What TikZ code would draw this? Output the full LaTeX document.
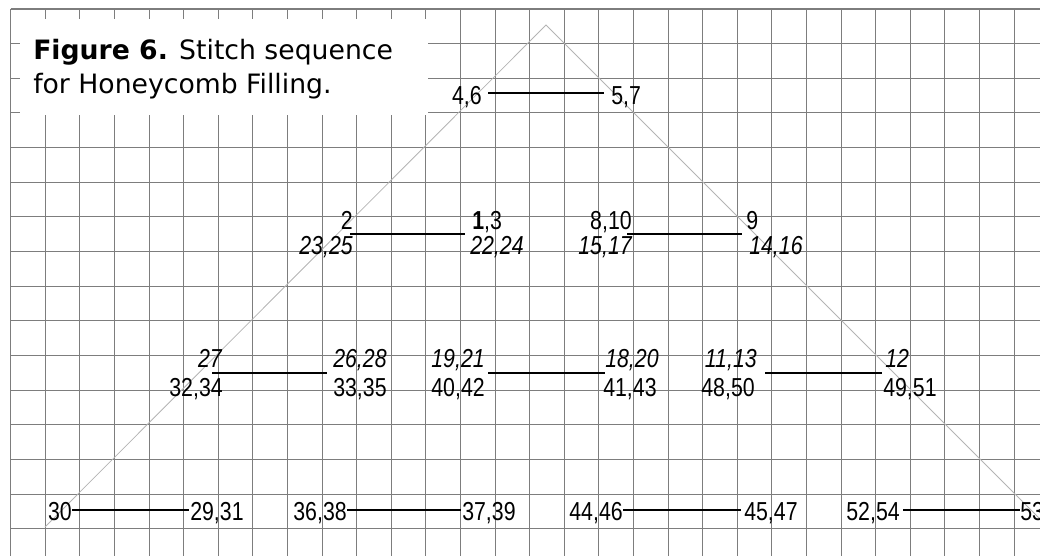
\documentclass[tikz,border=0pt]{standalone}
\usepackage{fontspec}
\setmainfont{DejaVu Sans}
\newfontfamily\stitchfont[FakeStretch=0.82]{Liberation Sans}
\definecolor{gridgray}{RGB}{125,125,125}
\definecolor{trigray}{RGB}{180,180,180}

\begin{document}
\begin{tikzpicture}[x=0.75pt,y=-0.75pt,gridline/.style={draw=gridgray,line width=0.8pt},outline/.style={draw=trigray,line width=0.6pt},stitch/.style={line width=1.5pt},num/.style={inner sep=0pt,font=\stitchfont\fontsize{19.5}{19.5}\selectfont},inum/.style={inner sep=0pt,font=\stitchfont\itshape\fontsize{19.5}{19.5}\selectfont},caption/.style={inner sep=0pt,align=left,font=\fontsize{20}{25.5}\selectfont}]
\useasboundingbox (0,0) rectangle (1040,556);
\clip (0,0) rectangle (1040,556);
% squared paper
\foreach \i in {0,...,29}
  \draw[gridline] (10.7+34.6*\i,9) -- (10.7+34.6*\i,556);
\foreach \j in {0,...,15}
  \draw[gridline] (10.7,9+34.65*\j) -- (1040,9+34.65*\j);
% caption
\fill[white] (20,19) rectangle (428,115);
\node[caption,anchor=base west] (title) at (33,94) {\textbf{Figure 6.} Stitch sequence\\for Honeycomb Filling.};
% outline of the area
\coordinate (apex) at (546,25);
\coordinate (lfoot) at (45,527);
\coordinate (rfoot) at (1048,527);
\draw[outline] (lfoot) -- (apex) -- (rfoot);
% row 1
\coordinate (a1) at (488,92.7);
\coordinate (a2) at (604,92.7);
\draw[stitch] (a1) -- (a2);
\node[num,anchor=base east] (n46) at (482,105) {4,6};
\node[num,anchor=base west] (n57) at (611,105) {5,7};
% row 2
\coordinate (b1) at (350,234.3);
\coordinate (b2) at (465,234.3);
\draw[stitch] (b1) -- (b2);
\node[num,anchor=base east] (n2) at (353,230) {2};
\node[inum,anchor=base east] (n2325) at (353,255) {23,25};
\node[num,anchor=base west] (n13) at (472,230) {\textbf{1},3};
\node[inum,anchor=base west] (n2224) at (470,255) {22,24};
\coordinate (b3) at (627,234.3);
\coordinate (b4) at (742,234.3);
\draw[stitch] (b3) -- (b4);
\node[num,anchor=base east] (n810) at (632,230) {8,10};
\node[inum,anchor=base east] (n1517) at (632,255) {15,17};
\node[num,anchor=base west] (n9) at (746,230) {9};
\node[inum,anchor=base west] (n1416) at (749,255) {14,16};
% row 3
\coordinate (c1) at (212,372.7);
\coordinate (c2) at (327,372.7);
\draw[stitch] (c1) -- (c2);
\node[inum,anchor=base east] (n27) at (222,368) {27};
\node[num,anchor=base east] (n3234) at (223,397) {32,34};
\node[inum,anchor=base west] (n2628) at (333,368) {26,28};
\node[num,anchor=base west] (n3335) at (333,397) {33,35};
\coordinate (c3) at (488,372.7);
\coordinate (c4) at (605,372.7);
\draw[stitch] (c3) -- (c4);
\node[inum,anchor=base east] (n1921) at (485,368) {19,21};
\node[num,anchor=base east] (n4042) at (485,397) {40,42};
\node[inum,anchor=base west] (n1820) at (605,368) {18,20};
\node[num,anchor=base west] (n4143) at (603,397) {41,43};
\coordinate (c5) at (765,372.7);
\coordinate (c6) at (882,372.7);
\draw[stitch] (c5) -- (c6);
\node[inum,anchor=base east] (n1113) at (757,368) {11,13};
\node[num,anchor=base east] (n4850) at (755,397) {48,50};
\node[inum,anchor=base west] (n12) at (885,368) {12};
\node[num,anchor=base west] (n4951) at (883,397) {49,51};
% row 4
\coordinate (d1) at (72,510);
\coordinate (d2) at (189,510);
\draw[stitch] (d1) -- (d2);
\node[num,anchor=base east] (n30) at (72,520) {30};
\node[num,anchor=base west] (n2931) at (190,520) {29,31};
\coordinate (d3) at (347,510);
\coordinate (d4) at (461,510);
\draw[stitch] (d3) -- (d4);
\node[num,anchor=base east] (n3638) at (347,520) {36,38};
\node[num,anchor=base west] (n3739) at (462,520) {37,39};
\coordinate (d5) at (623,510);
\coordinate (d6) at (741,510);
\draw[stitch] (d5) -- (d6);
\node[num,anchor=base east] (n4446) at (623,520) {44,46};
\node[num,anchor=base west] (n4547) at (744,520) {45,47};
\coordinate (d7) at (903,510);
\coordinate (d8) at (1020,510);
\draw[stitch] (d7) -- (d8);
\node[num,anchor=base east] (n5254) at (900,520) {52,54};
\node[num,anchor=base west] (n53) at (1020,520) {53};
\end{tikzpicture}
\end{document}
